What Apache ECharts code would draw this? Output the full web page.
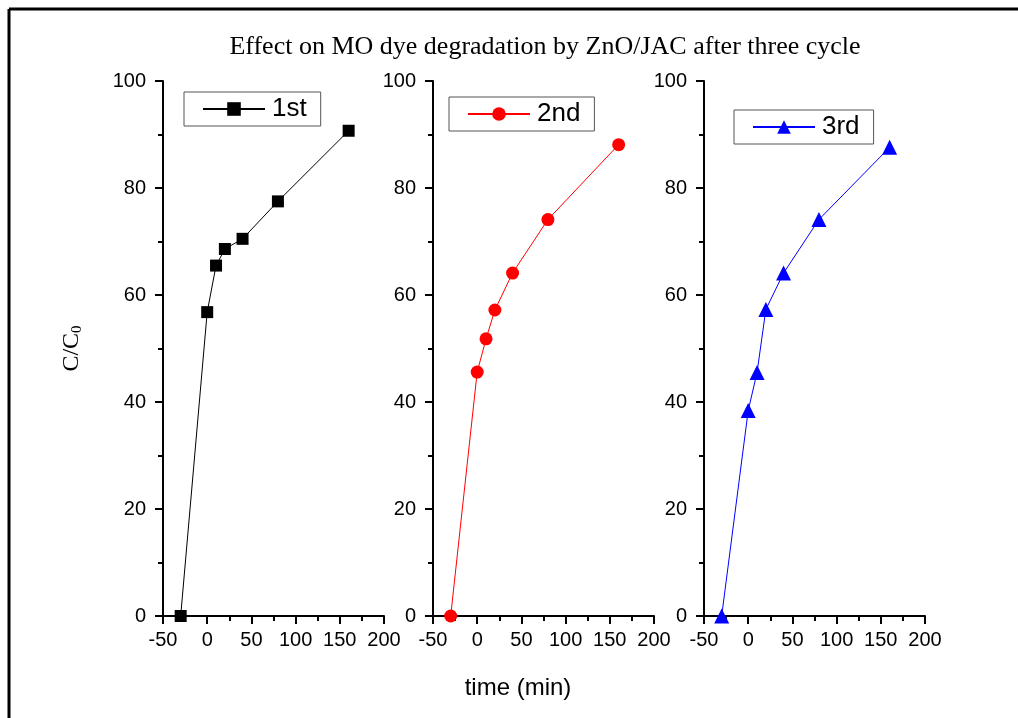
<!DOCTYPE html>
<html>
<head>
<meta charset="utf-8">
<script src="https://cdn.jsdelivr.net/npm/echarts@6/dist/echarts.min.js"></script>
<style>
  html, body { margin: 0; padding: 0; background: #fff; }
  #chart { width: 1018px; height: 718px; }
</style>
</head>
<body>
<div id="chart"></div>
<script>
const times = [-30, 0, 10, 20, 40, 80, 160];
const cycleNames = ['1st', '2nd', '3rd'];
const cycle1 = [0, 56.8, 65.5, 68.6, 70.5, 77.5, 90.7];
const cycle2 = [0, 45.6, 51.8, 57.2, 64.1, 74.1, 88.1];
const cycle3 = [0, 38.4, 45.5, 57.3, 64.1, 74.1, 87.6];
const xTicks = { min: -50, max: 200, interval: 50 };
const yTicks = { min: 0, max: 100, interval: 20 };

const cycles = [cycle1, cycle2, cycle3];
const colors = ['#000000', '#ff0000', '#0000ff'];
const symbols = ['rect', 'circle', 'triangle'];
const symbolSizes = [12, 13, 15];

const gridLefts = [163, 433, 704];
const gridWidth = 221;
const legendPos = [
  { left: 184, top: 92 },
  { left: 449, top: 97 },
  { left: 734, top: 110 }
];

const chart = echarts.init(document.getElementById('chart'));

const axisLine = { show: true, onZero: false, lineStyle: { color: '#000', width: 2 } };
const labelFont = { color: '#000', fontSize: 20, fontFamily: 'Liberation Sans, Arial, sans-serif' };

const option = {
  animation: false,
  backgroundColor: '#fff',
  title: [
    {
      text: 'Effect on MO dye degradation by ZnO/JAC after three cycle',
      left: 540, top: 29, textAlign: 'center',
      textStyle: { fontFamily: 'Liberation Serif, Times New Roman, serif', fontSize: 26, fontWeight: 'normal', color: '#000' }
    },
    {
      text: 'time (min)',
      left: 513, top: 671, textAlign: 'center',
      textStyle: { fontFamily: 'Liberation Sans, Arial, sans-serif', fontSize: 24, fontWeight: 'normal', color: '#000' }
    }
  ],
  graphic: [
    { type: 'line', shape: { x1: 9, y1: 9, x2: 1018, y2: 9 }, style: { stroke: '#000', lineWidth: 3 } },
    { type: 'line', shape: { x1: 9, y1: 9, x2: 9, y2: 718 }, style: { stroke: '#000', lineWidth: 3 } }
  ],
  legend: cycleNames.map((n, i) => ({
    data: [n],
    left: legendPos[i].left,
    top: legendPos[i].top,
    orient: 'horizontal',
    borderColor: '#555',
    borderWidth: 1,
    padding: [4, 14, 4, 18],
    itemWidth: 62,
    itemHeight: 17,
    itemGap: 0,
    selectedMode: false,
    textStyle: { fontSize: 26, color: '#000', fontFamily: 'Liberation Sans, Arial, sans-serif', padding: [0, 0, 0, 2] }
  })),
  grid: gridLefts.map(l => ({ left: l, width: gridWidth, top: 81, bottom: 102 })),
  xAxis: gridLefts.map((l, i) => ({
    type: 'value',
    gridIndex: i,
    min: xTicks.min, max: xTicks.max, interval: xTicks.interval,
    axisLine: axisLine,
    axisTick: { show: true, inside: false, length: 8, lineStyle: { color: '#000', width: 2 } },
    minorTick: { show: true, splitNumber: 2, length: 5, lineStyle: { color: '#000', width: 2 } },
    splitLine: { show: false },
    axisLabel: Object.assign({ margin: 14, showMinLabel: true, showMaxLabel: true }, labelFont)
  })),
  yAxis: gridLefts.map((l, i) => ({
    type: 'value',
    gridIndex: i,
    min: yTicks.min, max: yTicks.max, interval: yTicks.interval,
    axisLine: axisLine,
    axisTick: { show: true, inside: false, length: 8, lineStyle: { color: '#000', width: 2 } },
    minorTick: { show: true, splitNumber: 2, length: 5, lineStyle: { color: '#000', width: 2 } },
    splitLine: { show: false },
    axisLabel: Object.assign({ margin: 17 }, labelFont),
    name: i === 0 ? 'C/C{sub|0}' : '',
    nameLocation: 'middle',
    nameGap: 78,
    nameRotate: 90,
    nameTextStyle: {
      fontFamily: 'Liberation Serif, Times New Roman, serif', fontSize: 24, color: '#000',
      rich: { sub: { fontFamily: 'Liberation Serif, Times New Roman, serif', fontSize: 15, color: '#000', verticalAlign: 'bottom', padding: [12, 0, 0, 0] } }
    }
  })),
  series: cycles.map((vals, i) => ({
    name: cycleNames[i],
    type: 'line',
    xAxisIndex: i,
    yAxisIndex: i,
    data: times.map((t, k) => [t, vals[k]]),
    symbol: symbols[i],
    symbolSize: symbolSizes[i],
    showAllSymbol: true,
    clip: false,
    itemStyle: { color: colors[i] },
    lineStyle: { color: colors[i], width: 1 }
  }))
};

chart.setOption(option);
</script>
</body>
</html>
